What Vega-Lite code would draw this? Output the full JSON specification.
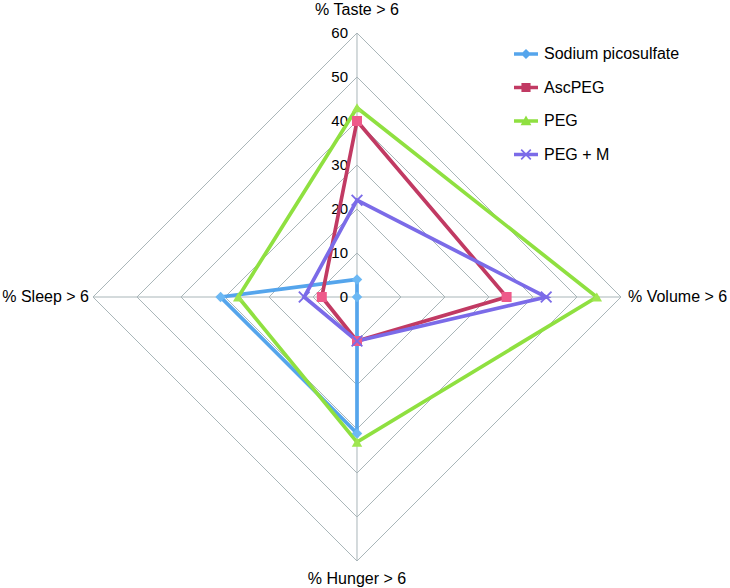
{
  "$schema": "https://vega.github.io/schema/vega-lite/v6.json",
  "width": 730,
  "height": 588,
  "padding": 0,
  "autosize": {"type": "none"},
  "config": {"view": {"stroke": null}, "font": "Liberation Sans", "text": {"font": "Liberation Sans"}},
  "datasets": {
    "series": [
      {"series": "Sodium picosulfate", "axis": "Taste", "value": 4},
      {"series": "Sodium picosulfate", "axis": "Volume", "value": 0},
      {"series": "Sodium picosulfate", "axis": "Hunger", "value": 31},
      {"series": "Sodium picosulfate", "axis": "Sleep", "value": 31},
      {"series": "AscPEG", "axis": "Taste", "value": 40},
      {"series": "AscPEG", "axis": "Volume", "value": 34},
      {"series": "AscPEG", "axis": "Hunger", "value": 10},
      {"series": "AscPEG", "axis": "Sleep", "value": 8},
      {"series": "PEG", "axis": "Taste", "value": 43},
      {"series": "PEG", "axis": "Volume", "value": 54.5},
      {"series": "PEG", "axis": "Hunger", "value": 33},
      {"series": "PEG", "axis": "Sleep", "value": 27},
      {"series": "PEG + M", "axis": "Taste", "value": 22},
      {"series": "PEG + M", "axis": "Volume", "value": 43},
      {"series": "PEG + M", "axis": "Hunger", "value": 10},
      {"series": "PEG + M", "axis": "Sleep", "value": 12}
    ],
    "rings": [
      {"value": 10, "axes": ["Taste", "Volume", "Hunger", "Sleep"]},
      {"value": 20, "axes": ["Taste", "Volume", "Hunger", "Sleep"]},
      {"value": 30, "axes": ["Taste", "Volume", "Hunger", "Sleep"]},
      {"value": 40, "axes": ["Taste", "Volume", "Hunger", "Sleep"]},
      {"value": 50, "axes": ["Taste", "Volume", "Hunger", "Sleep"]},
      {"value": 60, "axes": ["Taste", "Volume", "Hunger", "Sleep"]}
    ],
    "ticks": [
      {"v": 0}, {"v": 10}, {"v": 20}, {"v": 30}, {"v": 40}, {"v": 50}, {"v": 60}
    ],
    "labels": [
      {"axis": "Taste", "value": 60, "label": "% Taste > 6"},
      {"axis": "Volume", "value": 60, "label": "% Volume > 6"},
      {"axis": "Hunger", "value": 60, "label": "% Hunger > 6"},
      {"axis": "Sleep", "value": 60, "label": "% Sleep > 6"}
    ]
  },
  "layer": [
    {
      "data": {"name": "rings"},
      "transform": [
        {"flatten": ["axes"], "as": ["axis"]},
        {"calculate": "indexof(['Taste','Volume','Hunger','Sleep'], datum.axis)", "as": "ord"},
        {"calculate": "datum.axis === 'Volume' ? datum.value : datum.axis === 'Sleep' ? -datum.value : 0", "as": "x"},
        {"calculate": "datum.axis === 'Taste' ? datum.value : datum.axis === 'Hunger' ? -datum.value : 0", "as": "y"}
      ],
      "mark": {"type": "line", "interpolate": "linear-closed", "stroke": "#A9B6B9", "strokeWidth": 1},
      "encoding": {
        "x": {"field": "x", "type": "quantitative", "scale": {"domain": [-81.136, 84.773], "nice": false, "zero": false}, "axis": null},
        "y": {"field": "y", "type": "quantitative", "scale": {"domain": [-66.136, 67.5], "nice": false, "zero": false}, "axis": null},
        "detail": {"field": "value", "type": "nominal"},
        "order": {"field": "ord", "type": "quantitative"}
      }
    },
    {
      "data": {"name": "rings"},
      "transform": [
        {"filter": "datum.value === 60"},
        {"flatten": ["axes"], "as": ["axis"]},
        {"calculate": "datum.axis === 'Volume' ? datum.value : datum.axis === 'Sleep' ? -datum.value : 0", "as": "x"},
        {"calculate": "datum.axis === 'Taste' ? datum.value : datum.axis === 'Hunger' ? -datum.value : 0", "as": "y"}
      ],
      "mark": {"type": "rule", "stroke": "#A9B6B9", "strokeWidth": 1},
      "encoding": {
        "x": {"field": "x", "type": "quantitative"},
        "y": {"field": "y", "type": "quantitative"},
        "x2": {"datum": 0},
        "y2": {"datum": 0}
      }
    },
    {
      "data": {"name": "ticks"},
      "mark": {"type": "text", "align": "right", "baseline": "middle", "dx": -9, "fontSize": 15, "color": "#000000"},
      "encoding": {
        "x": {"datum": 0, "type": "quantitative"},
        "y": {"field": "v", "type": "quantitative"},
        "text": {"field": "v", "type": "quantitative"}
      }
    },
    {
      "data": {"name": "series"},
      "transform": [
        {"calculate": "indexof(['Taste','Volume','Hunger','Sleep'], datum.axis)", "as": "ord"},
        {"calculate": "datum.axis === 'Volume' ? datum.value : datum.axis === 'Sleep' ? -datum.value : 0", "as": "x"},
        {"calculate": "datum.axis === 'Taste' ? datum.value : datum.axis === 'Hunger' ? -datum.value : 0", "as": "y"}
      ],
      "layer": [
        {
          "mark": {"type": "line", "interpolate": "linear-closed", "strokeWidth": 3.7},
          "encoding": {
            "x": {"field": "x", "type": "quantitative"},
            "y": {"field": "y", "type": "quantitative"},
            "order": {"field": "ord", "type": "quantitative"},
            "stroke": {
              "field": "series", "type": "nominal",
              "scale": {"domain": ["Sodium picosulfate", "AscPEG", "PEG", "PEG + M"], "range": ["#55A5EC", "#C13A63", "#8FE040", "#7B6BE8"]},
              "legend": {
                "title": null, "orient": "none", "legendX": 514, "legendY": 42, "padding": 0,
                "labelFont": "Liberation Sans", "labelFontSize": 16, "labelColor": "#000000", "labelOffset": 6,
                "rowPadding": 13.5, "symbolSize": 576, "symbolStrokeWidth": 0,
                "encode": {
                  "symbols": {
                    "update": {
                      "shape": {"signal": "datum.value === 'Sodium picosulfate' ? 'M-1,-0.15H1V0.15H-1Z M0,-0.42L0.42,0L0,0.42L-0.42,0Z' : datum.value === 'AscPEG' ? 'M-1,-0.15H1V0.15H-1Z M-0.38,-0.38H0.38V0.38H-0.38Z' : datum.value === 'PEG' ? 'M-1,-0.15H1V0.15H-1Z M0,-0.45L0.45,0.35H-0.45Z' : 'M-1,-0.15H1V0.15H-1Z M-0.45,-0.35L-0.35,-0.45L0.45,0.35L0.35,0.45Z M-0.45,0.35L0.35,-0.45L0.45,-0.35L-0.35,0.45Z'"},
                      "fill": {"signal": "scale('stroke', datum.value)"},
                      "fillOpacity": {"value": 1},
                      "strokeWidth": {"value": 0}
                    }
                  }
                }
              }
            }
          }
        },
        {
          "transform": [{"filter": "datum.series === 'Sodium picosulfate'"}],
          "mark": {"type": "point", "filled": true, "opacity": 1, "shape": "diamond", "fill": "#6CB8F4", "size": 110},
          "encoding": {"x": {"field": "x", "type": "quantitative"}, "y": {"field": "y", "type": "quantitative"}}
        },
        {
          "transform": [{"filter": "datum.series === 'AscPEG'"}],
          "mark": {"type": "point", "filled": true, "opacity": 1, "shape": "square", "fill": "#EE5A8A", "size": 100},
          "encoding": {"x": {"field": "x", "type": "quantitative"}, "y": {"field": "y", "type": "quantitative"}}
        },
        {
          "transform": [{"filter": "datum.series === 'PEG'"}],
          "mark": {"type": "point", "filled": true, "opacity": 1, "shape": "triangle-up", "fill": "#9FE650", "size": 110},
          "encoding": {"x": {"field": "x", "type": "quantitative"}, "y": {"field": "y", "type": "quantitative"}}
        },
        {
          "transform": [{"filter": "datum.series === 'PEG + M'"}],
          "mark": {"type": "point", "filled": true, "opacity": 1, "shape": "M-1,-0.78L-0.78,-1L1,0.78L0.78,1Z M-1,0.78L0.78,-1L1,-0.78L-0.78,1Z", "fill": "#7B6BE8", "size": 144},
          "encoding": {"x": {"field": "x", "type": "quantitative"}, "y": {"field": "y", "type": "quantitative"}}
        }
      ]
    },
    {
      "data": {"name": "labels"},
      "transform": [{"filter": "datum.axis === 'Taste'"}],
      "mark": {"type": "text", "align": "center", "baseline": "middle", "dy": -23, "fontSize": 16, "color": "#000000"},
      "encoding": {"x": {"datum": 0, "type": "quantitative"}, "y": {"field": "value", "type": "quantitative"}, "text": {"field": "label"}}
    },
    {
      "data": {"name": "labels"},
      "transform": [{"filter": "datum.axis === 'Volume'"}],
      "mark": {"type": "text", "align": "left", "baseline": "middle", "dx": 7, "fontSize": 16, "color": "#000000"},
      "encoding": {"x": {"field": "value", "type": "quantitative"}, "y": {"datum": 0, "type": "quantitative"}, "text": {"field": "label"}}
    },
    {
      "data": {"name": "labels"},
      "transform": [{"filter": "datum.axis === 'Hunger'"}, {"calculate": "-datum.value", "as": "neg"}],
      "mark": {"type": "text", "align": "center", "baseline": "middle", "dy": 18, "fontSize": 16, "color": "#000000"},
      "encoding": {"x": {"datum": 0, "type": "quantitative"}, "y": {"field": "neg", "type": "quantitative"}, "text": {"field": "label"}}
    },
    {
      "data": {"name": "labels"},
      "transform": [{"filter": "datum.axis === 'Sleep'"}, {"calculate": "-datum.value", "as": "neg"}],
      "mark": {"type": "text", "align": "right", "baseline": "middle", "dx": -4, "fontSize": 16, "color": "#000000"},
      "encoding": {"x": {"field": "neg", "type": "quantitative"}, "y": {"datum": 0, "type": "quantitative"}, "text": {"field": "label"}}
    }
  ]
}
